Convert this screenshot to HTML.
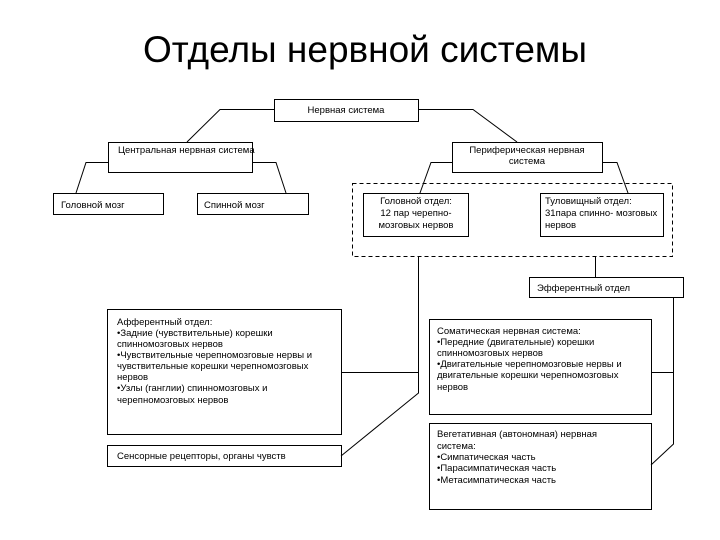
<!DOCTYPE html>
<html><head><meta charset="utf-8"><style>
html,body{margin:0;padding:0;background:#fff;}
svg{display:block;}
text{font-family:"Liberation Sans",Arial,sans-serif;fill:#000;}
.s{font-size:9.5px;}
</style></head><body>
<svg width="720" height="540" viewBox="0 0 720 540" xmlns="http://www.w3.org/2000/svg">
<text x="365" y="62" text-anchor="middle" style="font-size:37px">Отделы нервной системы</text>
<g fill="none" stroke="#000" stroke-width="1">
<rect x="274.5" y="99.5" width="144" height="22"/>
<rect x="108.5" y="142.5" width="144" height="30"/>
<rect x="452.5" y="142.5" width="150" height="30"/>
<rect x="53.5" y="193.5" width="110" height="21"/>
<rect x="197.5" y="193.5" width="111" height="21"/>
<rect x="352.5" y="183.5" width="320" height="73" stroke-dasharray="4,3"/>
<rect x="363.5" y="193.5" width="105" height="43"/>
<rect x="540.5" y="193.5" width="123" height="43"/>
<rect x="529.5" y="277.5" width="154" height="20"/>
<rect x="107.5" y="309.5" width="234" height="125"/>
<rect x="107.5" y="445.5" width="234" height="21"/>
<rect x="429.5" y="319.5" width="222" height="95"/>
<rect x="429.5" y="423.5" width="222" height="86"/>
<polyline points="274,109.5 220,109.5 187,142"/>
<polyline points="418,109.5 473,109.5 517,142"/>
<polyline points="108,162.5 86,162.5 76,193"/>
<polyline points="252,162.5 276,162.5 286,193"/>
<polyline points="452,162.5 431,162.5 420,193"/>
<polyline points="602,162.5 617,162.5 628,193"/>
<polyline points="418.5,257 418.5,393 341,456"/>
<line x1="341" y1="372.5" x2="418.5" y2="372.5"/>
<line x1="595.5" y1="257" x2="595.5" y2="277"/>
<polyline points="673.5,298 673.5,444 651,465"/>
<line x1="651" y1="372.5" x2="673.5" y2="372.5"/>
</g>
<g class="s">
<text x="346" y="113" text-anchor="middle">Нервная система</text>
<text x="118" y="153">Центральная нервная система</text>
<text x="527" y="153" text-anchor="middle">Периферическая нервная</text>
<text x="527" y="164" text-anchor="middle">система</text>
<text x="61" y="208">Головной мозг</text>
<text x="204" y="208">Спинной мозг</text>
<text x="416" y="204" text-anchor="middle">Головной отдел:</text>
<text x="416" y="216" text-anchor="middle">12 пар черепно-</text>
<text x="416" y="228" text-anchor="middle">мозговых нервов</text>
<text x="545" y="204">Туловищный отдел:</text>
<text x="545" y="216">31пара спинно- мозговых</text>
<text x="545" y="228">нервов</text>
<text x="537" y="291">Эфферентный отдел</text>
<text x="117" y="325">Афферентный отдел:</text>
<text x="117" y="336">•Задние (чувствительные) корешки</text>
<text x="117" y="347">спинномозговых нервов</text>
<text x="117" y="358">•Чувствительные черепномозговые нервы и</text>
<text x="117" y="369">чувствительные корешки черепномозговых</text>
<text x="117" y="380">нервов</text>
<text x="117" y="391">•Узлы (ганглии) спинномозговых и</text>
<text x="117" y="403">черепномозговых нервов</text>
<text x="117" y="459">Сенсорные рецепторы, органы чувств</text>
<text x="437" y="334">Соматическая нервная система:</text>
<text x="437" y="345">•Передние (двигательные) корешки</text>
<text x="437" y="356">спинномозговых нервов</text>
<text x="437" y="367">•Двигательные черепномозговые нервы и</text>
<text x="437" y="378">двигательные корешки черепномозговых</text>
<text x="437" y="390">нервов</text>
<text x="437" y="437">Вегетативная (автономная) нервная</text>
<text x="437" y="449">система:</text>
<text x="437" y="460">•Симпатическая часть</text>
<text x="437" y="471">•Парасимпатическая часть</text>
<text x="437" y="483">•Метасимпатическая часть</text>
</g>
</svg>
</body></html>
